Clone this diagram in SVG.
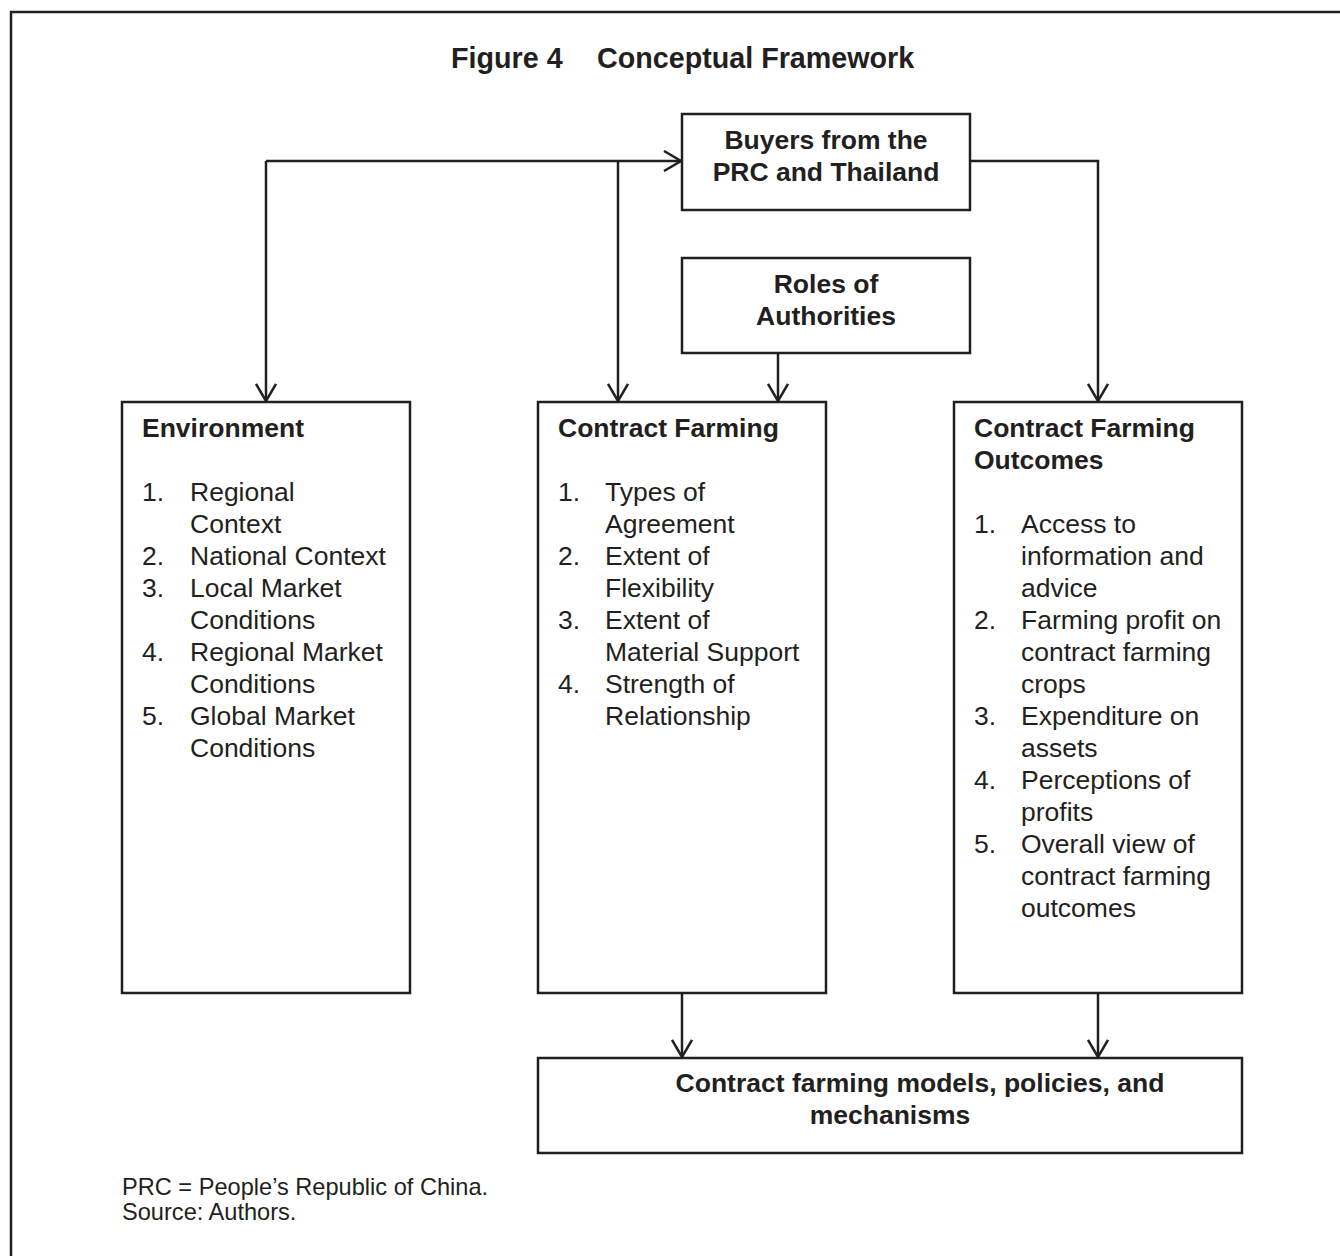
<svg xmlns="http://www.w3.org/2000/svg" width="1340" height="1256" viewBox="0 0 1340 1256">
<style>
.box{fill:#fff;stroke:#231f20;stroke-width:2.5}
.ln{fill:none;stroke:#231f20;stroke-width:2.5}
.b{font-family:"Liberation Sans",Arial,sans-serif;font-weight:bold;font-size:26.5px;fill:#231f20}
.t{font-family:"Liberation Sans",Arial,sans-serif;font-size:26.5px;fill:#231f20}
.ttl{font-family:"Liberation Sans",Arial,sans-serif;font-weight:bold;font-size:28.7px;fill:#231f20}
.ft{font-family:"Liberation Sans",Arial,sans-serif;font-size:23.6px;fill:#231f20}
.c{text-anchor:middle}
</style>
<defs>
<marker id="arr" markerUnits="userSpaceOnUse" viewBox="-1 -1 20 22" refX="17" refY="10" markerWidth="20" markerHeight="22" orient="auto">
<path d="M0,0 L17,10 L0,20" fill="none" stroke="#231f20" stroke-width="2.5"/>
</marker>
</defs>
<rect width="1340" height="1256" fill="#fff"/>
<path d="M11,1256 L11,12 L1340,12" class="ln"/>
<g id="title">
<text x="451" y="68" class="ttl">Figure 4</text>
<text x="597" y="68" class="ttl">Conceptual Framework</text>
</g>
<g id="connectors">
<path d="M266,161 L266,401" class="ln" marker-end="url(#arr)"/>
<path d="M266,161 L681,161" class="ln" marker-end="url(#arr)"/>
<path d="M618,161 L618,401" class="ln" marker-end="url(#arr)"/>
<path d="M970,161 L1098,161 L1098,401" class="ln" marker-end="url(#arr)"/>
<path d="M778,353 L778,401" class="ln" marker-end="url(#arr)"/>
<path d="M682,993 L682,1057" class="ln" marker-end="url(#arr)"/>
<path d="M1098,993 L1098,1057" class="ln" marker-end="url(#arr)"/>
</g>
<g id="buyers">
<rect x="682" y="114" width="288" height="96" class="box"/>
<text x="826" y="149" class="b c">Buyers from the</text>
<text x="826" y="181" class="b c">PRC and Thailand</text>
</g>
<g id="roles">
<rect x="682" y="258" width="288" height="95" class="box"/>
<text x="826" y="293" class="b c">Roles of</text>
<text x="826" y="325" class="b c">Authorities</text>
</g>
<g id="environment">
<rect x="122" y="402" width="288" height="591" class="box"/>
<text x="142" y="437" class="b">Environment</text>
<text class="t">
<tspan x="142" y="501">1.</tspan><tspan x="190" y="501">Regional</tspan>
<tspan x="190" y="533">Context</tspan>
<tspan x="142" y="565">2.</tspan><tspan x="190" y="565">National Context</tspan>
<tspan x="142" y="597">3.</tspan><tspan x="190" y="597">Local Market</tspan>
<tspan x="190" y="629">Conditions</tspan>
<tspan x="142" y="661">4.</tspan><tspan x="190" y="661">Regional Market</tspan>
<tspan x="190" y="693">Conditions</tspan>
<tspan x="142" y="725">5.</tspan><tspan x="190" y="725">Global Market</tspan>
<tspan x="190" y="757">Conditions</tspan>
</text>
</g>
<g id="contract-farming">
<rect x="538" y="402" width="288" height="591" class="box"/>
<text x="558" y="437" class="b">Contract Farming</text>
<text class="t">
<tspan x="558" y="501">1.</tspan><tspan x="605" y="501">Types of</tspan>
<tspan x="605" y="533">Agreement</tspan>
<tspan x="558" y="565">2.</tspan><tspan x="605" y="565">Extent of</tspan>
<tspan x="605" y="597">Flexibility</tspan>
<tspan x="558" y="629">3.</tspan><tspan x="605" y="629">Extent of</tspan>
<tspan x="605" y="661">Material Support</tspan>
<tspan x="558" y="693">4.</tspan><tspan x="605" y="693">Strength of</tspan>
<tspan x="605" y="725">Relationship</tspan>
</text>
</g>
<g id="outcomes">
<rect x="954" y="402" width="288" height="591" class="box"/>
<text x="974" y="437" class="b">Contract Farming</text>
<text x="974" y="469" class="b">Outcomes</text>
<text class="t">
<tspan x="974" y="533">1.</tspan><tspan x="1021" y="533">Access to</tspan>
<tspan x="1021" y="565">information and</tspan>
<tspan x="1021" y="597">advice</tspan>
<tspan x="974" y="629">2.</tspan><tspan x="1021" y="629">Farming profit on</tspan>
<tspan x="1021" y="661">contract farming</tspan>
<tspan x="1021" y="693">crops</tspan>
<tspan x="974" y="725">3.</tspan><tspan x="1021" y="725">Expenditure on</tspan>
<tspan x="1021" y="757">assets</tspan>
<tspan x="974" y="789">4.</tspan><tspan x="1021" y="789">Perceptions of</tspan>
<tspan x="1021" y="821">profits</tspan>
<tspan x="974" y="853">5.</tspan><tspan x="1021" y="853">Overall view of</tspan>
<tspan x="1021" y="885">contract farming</tspan>
<tspan x="1021" y="917">outcomes</tspan>
</text>
</g>
<g id="models">
<rect x="538" y="1058" width="704" height="95" class="box"/>
<text x="920" y="1092" class="b c">Contract farming models, policies, and</text>
<text x="890" y="1124" class="b c">mechanisms</text>
</g>
<g id="footnote">
<text x="122" y="1195" class="ft">PRC = People’s Republic of China.</text>
<text x="122" y="1220" class="ft">Source: Authors.</text>
</g>
</svg>
